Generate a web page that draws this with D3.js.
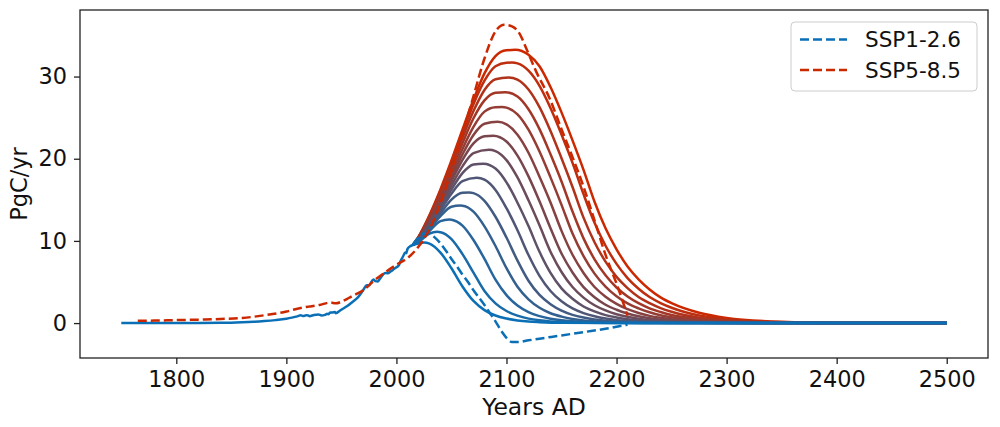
<!DOCTYPE html>
<html><head><meta charset="utf-8">
<script src="https://cdn.jsdelivr.net/npm/d3@7"></script>
<style>body{margin:0;background:#fff} svg{display:block} text{font-family:"DejaVu Sans",sans-serif;fill:#111}</style>
</head><body><svg id="c" width="1000" height="427"></svg>
<script>
// ---------- data ----------
const xTicks = [1800, 1900, 2000, 2100, 2200, 2300, 2400, 2500];
const yTicks = [0, 10, 20, 30];
const seriesNames = ["SSP1-2.6", "SSP5-8.5"];
const xLabel = "Years AD";
const yLabel = "PgC/yr";

const historical = [[1750,0.0],[1760,0.01],[1780,0.01],[1800,0.01],[1820,0.02],[1840,0.04],[1850,0.05],[1860,0.09],[1870,0.15],[1880,0.24],[1890,0.36],[1900,0.53],[1905,0.66],[1910,0.82],[1913,0.94],[1915,0.86],[1918,0.94],[1920,0.93],[1921,0.84],[1925,0.98],[1929,1.05],[1932,0.92],[1935,0.99],[1937,1.13],[1938,1.08],[1940,1.28],[1942,1.3],[1944,1.35],[1945,1.2],[1946,1.25],[1948,1.45],[1950,1.63],[1955,2.04],[1960,2.57],[1965,3.13],[1970,4.05],[1973,4.6],[1975,4.6],[1979,5.3],[1981,5.1],[1983,5.05],[1985,5.4],[1990,6.1],[1992,6.05],[1995,6.3],[1998,6.6],[2000,6.8],[2002,7.0],[2004,7.6],[2006,8.1],[2008,8.6],[2009,8.5],[2010,9.0],[2012,9.3],[2015,9.5]];

const ssp126 = [[2015,9.6],[2020,10.4],[2025,10.9],[2030,10.9],[2035,10.4],[2040,9.7],[2045,8.8],[2050,7.8],[2055,6.9],[2060,5.9],[2065,5.0],[2070,4.0],[2075,3.1],[2080,2.2],[2085,1.2],[2090,0.2],[2095,-0.9],[2100,-1.8],[2105,-2.3],[2110,-2.3],[2120,-2.1],[2130,-1.9],[2150,-1.5],[2170,-1.1],[2190,-0.7],[2200,-0.45],[2210,-0.2]];

const ssp585 = [[1765,0.28],[1780,0.3],[1800,0.36],[1820,0.42],[1840,0.5],[1860,0.62],[1880,0.95],[1900,1.4],[1910,1.75],[1920,2.0],[1930,2.2],[1940,2.5],[1945,2.4],[1950,2.6],[1960,3.3],[1970,4.0],[1980,5.2],[1990,6.2],[2000,7.1],[2010,7.9],[2020,9.3],[2030,11.4],[2040,14.6],[2050,18.6],[2060,23.0],[2070,27.6],[2080,32.2],[2090,35.5],[2098,36.3],[2105,36.1],[2112,35.2],[2118,33.4],[2127,30.6],[2139,27.4],[2150,23.6],[2160,20.2],[2170,16.6],[2180,12.5],[2190,8.3],[2200,4.8],[2210,0.9]];

const path01 = [[2015,9.5],[2020,9.68],[2025,9.8],[2030,9.67],[2040,8.58],[2050,6.67],[2060,4.46],[2070,2.69],[2080,1.58],[2090,0.92],[2100,0.55],[2110,0.32],[2120,0.18],[2130,0.11],[2150,0.03],[2200,0],[2500,0]];
const path02 = [[2015,9.5],[2020,9.87],[2030,10.88],[2037,11.1],[2040,11.06],[2050,10.21],[2060,8.39],[2070,6.15],[2080,3.91],[2090,2.4],[2100,1.47],[2110,0.9],[2120,0.54],[2130,0.33],[2140,0.2],[2150,0.12],[2170,0.04],[2200,0.01],[2250,0],[2500,0]];
const path03 = [[2015,9.5],[2020,9.94],[2030,11.2],[2040,12.4],[2048,12.6],[2050,12.58],[2060,11.86],[2070,10.11],[2080,7.81],[2090,5.29],[2100,3.4],[2110,2.14],[2120,1.34],[2130,0.85],[2140,0.53],[2150,0.33],[2160,0.21],[2170,0.13],[2180,0.08],[2200,0.03],[2250,0],[2500,0]];
const path04 = [[2015,9.5],[2020,9.99],[2030,11.39],[2040,13.01],[2050,14.16],[2058,14.3],[2060,14.29],[2070,13.56],[2080,11.77],[2090,9.38],[2100,6.69],[2110,4.43],[2120,2.89],[2130,1.86],[2140,1.2],[2150,0.79],[2160,0.5],[2170,0.31],[2180,0.2],[2200,0.08],[2225,0.02],[2250,0],[2500,0]];
const path05 = [[2015,9.5],[2020,10.03],[2030,11.53],[2040,13.34],[2050,15.03],[2060,15.86],[2066,15.9],[2070,15.82],[2080,14.88],[2090,12.94],[2100,10.41],[2110,7.6],[2120,5.15],[2130,3.42],[2140,2.29],[2150,1.51],[2160,1.0],[2170,0.67],[2180,0.44],[2190,0.29],[2200,0.19],[2225,0.06],[2250,0.02],[2300,0],[2500,0]];
const path06 = [[2015,9.5],[2020,10.09],[2030,11.73],[2040,13.71],[2050,15.74],[2060,17.27],[2073,17.7],[2080,17.45],[2090,16.2],[2100,13.98],[2110,11.29],[2120,8.28],[2130,5.75],[2140,3.91],[2150,2.66],[2160,1.79],[2170,1.22],[2180,0.83],[2190,0.55],[2200,0.36],[2210,0.25],[2225,0.13],[2250,0.04],[2300,0],[2500,0]];
const path07 = [[2015,9.5],[2020,10.13],[2030,11.88],[2040,14.0],[2050,16.25],[2060,18.24],[2070,19.29],[2079,19.4],[2090,18.8],[2100,17.13],[2110,14.65],[2120,11.8],[2130,8.67],[2140,6.11],[2150,4.23],[2160,2.95],[2170,2.02],[2180,1.42],[2190,0.97],[2200,0.68],[2210,0.46],[2220,0.31],[2230,0.22],[2250,0.09],[2275,0.03],[2300,0.01],[2500,0]];
const path08 = [[2015,9.5],[2020,10.18],[2030,12.05],[2040,14.28],[2050,16.75],[2060,19.07],[2070,20.67],[2084,21.1],[2090,20.93],[2100,19.83],[2110,17.72],[2120,14.94],[2130,11.9],[2140,8.69],[2150,6.22],[2160,4.39],[2170,3.1],[2180,2.17],[2190,1.54],[2200,1.08],[2210,0.76],[2220,0.53],[2230,0.37],[2240,0.26],[2250,0.17],[2275,0.07],[2300,0.03],[2350,0],[2500,0]];
const path09 = [[2015,9.5],[2020,10.23],[2030,12.24],[2040,14.61],[2050,17.25],[2060,19.85],[2070,21.87],[2080,22.73],[2088,22.8],[2100,22.09],[2110,20.38],[2120,17.85],[2130,14.82],[2140,11.54],[2150,8.46],[2160,6.16],[2170,4.38],[2180,3.15],[2190,2.23],[2200,1.62],[2210,1.16],[2220,0.82],[2230,0.58],[2240,0.41],[2250,0.3],[2275,0.11],[2300,0.04],[2350,0.01],[2400,0],[2500,0]];
const path10 = [[2015,9.5],[2020,10.28],[2030,12.41],[2040,14.9],[2050,17.7],[2060,20.52],[2070,22.9],[2080,24.26],[2092,24.5],[2100,24.18],[2110,22.93],[2120,20.73],[2130,17.81],[2140,14.68],[2150,11.22],[2160,8.31],[2170,6.1],[2180,4.39],[2190,3.21],[2200,2.33],[2210,1.69],[2220,1.23],[2230,0.88],[2240,0.64],[2250,0.46],[2275,0.2],[2300,0.08],[2350,0.01],[2400,0],[2500,0]];
const path11 = [[2015,9.5],[2020,10.32],[2030,12.56],[2040,15.18],[2050,18.14],[2060,21.18],[2070,23.88],[2080,25.73],[2090,26.28],[2096,26.3],[2100,26.22],[2110,25.41],[2120,23.54],[2130,20.88],[2140,17.73],[2150,14.39],[2160,10.89],[2170,8.15],[2180,6.02],[2190,4.44],[2200,3.26],[2210,2.39],[2220,1.79],[2230,1.32],[2240,0.95],[2250,0.7],[2275,0.33],[2300,0.13],[2350,0.02],[2400,0],[2500,0]];
const path12 = [[2015,9.5],[2020,10.37],[2030,12.75],[2040,15.49],[2050,18.65],[2060,21.89],[2070,24.92],[2080,27.1],[2090,28.03],[2099,28.1],[2110,27.57],[2120,26.02],[2130,23.6],[2140,20.54],[2150,17.23],[2160,13.57],[2170,10.31],[2180,7.76],[2190,5.82],[2200,4.33],[2210,3.23],[2220,2.42],[2230,1.8],[2240,1.35],[2250,0.98],[2275,0.48],[2300,0.21],[2350,0.04],[2400,0.01],[2500,0]];
const path13 = [[2015,9.5],[2020,10.42],[2030,12.89],[2040,15.78],[2050,19.11],[2060,22.56],[2070,25.8],[2080,28.37],[2090,29.68],[2102,29.9],[2110,29.63],[2120,28.43],[2130,26.28],[2140,23.38],[2150,20.06],[2160,16.56],[2170,12.83],[2180,9.84],[2190,7.47],[2200,5.62],[2210,4.25],[2220,3.17],[2230,2.42],[2240,1.82],[2250,1.38],[2275,0.66],[2300,0.33],[2350,0.06],[2400,0.01],[2500,0]];
const path14 = [[2015,9.5],[2020,10.45],[2030,13.05],[2040,16.07],[2050,19.53],[2060,23.15],[2070,26.64],[2080,29.5],[2090,31.26],[2100,31.69],[2105,31.7],[2110,31.6],[2120,30.72],[2130,28.88],[2140,26.18],[2150,22.95],[2160,19.5],[2170,15.69],[2180,12.2],[2190,9.41],[2200,7.2],[2210,5.48],[2220,4.18],[2230,3.17],[2240,2.44],[2250,1.87],[2275,0.92],[2300,0.46],[2350,0.1],[2400,0.02],[2500,0]];
const path15 = [[2015,9.5],[2020,10.5],[2030,13.13],[2040,16.27],[2050,19.78],[2060,23.54],[2070,27.17],[2080,30.38],[2090,32.49],[2100,33.2],[2108,33.25],[2120,32.65],[2130,31.26],[2140,28.73],[2150,25.64],[2160,22.24],[2170,18.65],[2180,14.76],[2190,11.54],[2200,8.98],[2210,6.88],[2220,5.32],[2230,4.09],[2240,3.13],[2250,2.43],[2275,1.26],[2300,0.63],[2350,0.15],[2400,0.03],[2500,0]];

const paths = [path01,path02,path03,path04,path05,path06,path07,path08,path09,path10,path11,path12,path13,path14,path15];

// ---------- drawing ----------
const blue = "#0b6fb6", red = "#cc2800";
const svg = d3.select("#c");
const M = {l:80, r:988, t:10, b:358};
const x = d3.scaleLinear().domain([1712.5, 2537.5]).range([M.l, M.r]);
const y = d3.scaleLinear().domain([-4.25, 38.1]).range([M.b, M.t]);
const line = d3.line().x(d => x(d[0])).y(d => y(d[1])).curve(d3.curveMonotoneX);
const col = d3.interpolateRgb(blue, red);
const LW = 2.5;

const g = svg.append("g");
// solid family, red first, blue last
for (let i = paths.length - 1; i >= 0; i--) {
  g.append("path").attr("d", line(paths[i])).attr("fill","none")
    .attr("stroke", col(i/(paths.length-1))).attr("stroke-width", LW);
}
g.append("path").attr("d", line(historical)).attr("fill","none").attr("stroke", blue).attr("stroke-width", LW);
const dash = "9,4";
g.append("path").attr("d", line(ssp126)).attr("fill","none").attr("stroke", blue).attr("stroke-width", LW).attr("stroke-dasharray", dash);
g.append("path").attr("d", line(ssp585)).attr("fill","none").attr("stroke", red).attr("stroke-width", LW).attr("stroke-dasharray", dash);

// axes
const xa = svg.append("g").attr("transform", `translate(0,${M.b})`)
  .call(d3.axisBottom(x).tickValues(xTicks).tickFormat(d3.format("d")).tickSize(6).tickPadding(7).tickSizeOuter(0));
const ya = svg.append("g").attr("transform", `translate(${M.l},0)`)
  .call(d3.axisLeft(y).tickValues(yTicks).tickSize(6).tickPadding(7).tickSizeOuter(0));
[xa, ya].forEach(a => {
  a.select(".domain").remove();
  a.selectAll("line").attr("stroke", "#222").attr("stroke-width", 1.3);
  a.selectAll("text").attr("font-size", 22.4).attr("font-family", '"DejaVu Sans",sans-serif').attr("fill", "#111");
});
svg.append("rect").attr("x", M.l).attr("y", M.t).attr("width", M.r - M.l).attr("height", M.b - M.t)
  .attr("fill", "none").attr("stroke", "#222").attr("stroke-width", 1.3);

svg.append("text").attr("x", (M.l + M.r)/2).attr("y", 415).attr("text-anchor", "middle").attr("font-size", 23.5).text(xLabel);
svg.append("text").attr("transform", `translate(27,${(M.t+M.b)/2}) rotate(-90)`).attr("text-anchor", "middle").attr("font-size", 22.4).text(yLabel);

// legend
const lg = svg.append("g");
lg.append("rect").attr("x", 791).attr("y", 22).attr("width", 186).attr("height", 69).attr("rx", 4)
  .attr("fill", "#fff").attr("fill-opacity", 0.8).attr("stroke", "#cccccc").attr("stroke-width", 1);
[[seriesNames[0], blue, 39.5], [seriesNames[1], red, 70]].forEach(([name, c, yy]) => {
  lg.append("line").attr("x1", 800).attr("x2", 847).attr("y1", yy).attr("y2", yy)
    .attr("stroke", c).attr("stroke-width", LW).attr("stroke-dasharray", dash);
  lg.append("text").attr("x", 865).attr("y", yy).attr("dy", "0.36em").attr("font-size", 21.5).text(name);
});
</script></body></html>
